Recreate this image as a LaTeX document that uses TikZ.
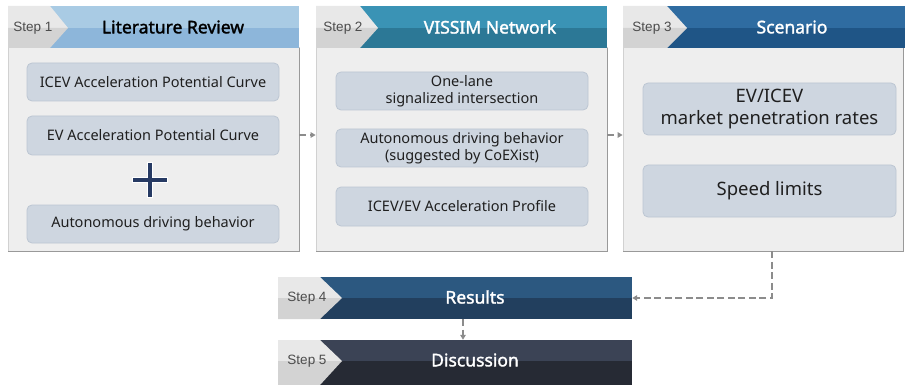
\documentclass[tikz,border=0pt]{standalone}
\usepackage{fontspec}
\setmainfont{Noto Sans}
\newfontfamily\stepfont{Liberation Sans}
\newfontfamily\titlefont{Noto Sans}[FakeBold=1.6]
\usetikzlibrary{arrows.meta}
\definecolor{hdAt}{HTML}{A9CBE4}\definecolor{hdAb}{HTML}{8DB6DA}
\definecolor{hdBt}{HTML}{3A93B5}\definecolor{hdBb}{HTML}{2C7896}
\definecolor{hdCt}{HTML}{2F6CA1}\definecolor{hdCb}{HTML}{1F5586}
\definecolor{hdDt}{HTML}{2C5880}\definecolor{hdDb}{HTML}{223F5E}
\definecolor{hdEt}{HTML}{3B4355}\definecolor{hdEb}{HTML}{262A34}
\definecolor{grayT}{HTML}{E8E8E8}\definecolor{grayB}{HTML}{D3D3D3}
\definecolor{panelfill}{HTML}{EEEEEE}
\definecolor{boxfill}{HTML}{CED6E0}\definecolor{boxline}{HTML}{BCC6D2}
\definecolor{arrowgray}{HTML}{8C8C8C}
\definecolor{plusnavy}{HTML}{263A63}
\newcommand{\stepbar}[9]{%
  \fill[#8] (#1,#5) rectangle (#4,#6);
  \fill[#9] (#1,#6) rectangle (#4,#7);
  \fill[grayT] (#1,#5) -- (#2,#5) -- (#3,#6) -- (#1,#6) -- cycle;
  \fill[grayB] (#1,#6) -- (#3,#6) -- (#2,#7) -- (#1,#7) -- cycle;
}
\tikzset{
  panelbody/.style={draw=black!18, fill=panelfill, inner sep=0pt, line width=0.8pt},
  infobox/.style={draw=boxline, fill=boxfill, rounded corners=5pt, inner sep=0pt, line width=0.8pt, align=center, font=\fontsize{14.5}{17}\selectfont, text=black!88},
  bigbox/.style={infobox, font=\fontsize{18.5}{22}\selectfont},
  steptxt/.style={font=\stepfont\fontsize{13.5}{15}\selectfont, text=black!70, inner sep=0pt},
  titletxt/.style={font=\titlefont\fontsize{17.5}{20}\selectfont, text=white, inner sep=0pt},
  flow/.style={draw=arrowgray, line width=1.6pt, dash pattern=on 7pt off 3.5pt, -{Triangle[length=5pt,width=5.5pt]}},
}
\begin{document}
\begin{tikzpicture}[x=1pt,y=-1pt]
\useasboundingbox (0,0) rectangle (905,385);
% panels
\node[panelbody, minimum width=291pt, minimum height=204pt] (p1) at (153.5,149) {};
\node[panelbody, minimum width=291pt, minimum height=204pt] (p2) at (461.5,149) {};
\node[panelbody, minimum width=280pt, minimum height=204pt] (p3) at (763,149) {};
\foreach \a/\b in {8/299,316/607,623/903}{
  \draw[black!40, line width=1pt] (\b,48) -- (\b,251) -- (\a,251);
}
% headers
\stepbar{8}{50}{68}{299}{6}{28}{48}{hdAt}{hdAb}
\stepbar{316}{360}{378}{607}{6}{28}{48}{hdBt}{hdBb}
\stepbar{623}{667}{687}{905}{6}{28}{48}{hdCt}{hdCb}
\node[steptxt] (s1) at (33,28) {Step 1};
\node[steptxt] (s2) at (343,28) {Step 2};
\node[steptxt] (s3) at (652,28) {Step 3};
\node[titletxt, text=black] (t1) at (173,27) {Literature Review};
\node[titletxt] (t2) at (490,27) {VISSIM Network};
\node[titletxt] (t3) at (792,27) {Scenario};
% boxes panel 1
\node[infobox, minimum width=252pt, minimum height=38pt] (b11) at (153,82) {ICEV Acceleration Potential Curve};
\node[infobox, minimum width=252pt, minimum height=39pt] (b12) at (153,135.5) {EV Acceleration Potential Curve};
\node[infobox, minimum width=252pt, minimum height=38pt] (b13) at (153,224) {Autonomous driving behavior};
\draw[white, line width=6pt] (132,180) -- (168,180) (150,162) -- (150,198);
\draw[plusnavy, line width=3.6pt] (133,180) -- (167,180) (150,163) -- (150,197);
% boxes panel 2
\node[infobox, minimum width=252pt, minimum height=38pt] (b21) at (462,91) {One-lane\\signalized intersection};
\node[infobox, minimum width=252pt, minimum height=38pt] (b22) at (462,148) {Autonomous driving behavior\\(suggested by CoEXist)};
\node[infobox, minimum width=252pt, minimum height=39pt] (b23) at (462,206.5) {ICEV/EV Acceleration Profile};
% boxes panel 3
\node[bigbox, minimum width=253pt, minimum height=52pt] (b31) at (769.5,109) {EV/ICEV\\market penetration rates};
\node[bigbox, minimum width=253pt, minimum height=52pt] (b32) at (769.5,191) {Speed limits};
% bottom bars
\node[inner sep=0pt, minimum width=354pt, minimum height=42pt] (res) at (455,298) {};
\node[inner sep=0pt, minimum width=354pt, minimum height=44pt] (dis) at (455,362) {};
\stepbar{278}{320}{342}{632}{277}{298}{319}{hdDt}{hdDb}
\stepbar{278}{320}{342}{632}{340}{361}{385}{hdEt}{hdEb}
\node[steptxt] (s4) at (307,298) {Step 4};
\node[steptxt] (s5) at (307,361) {Step 5};
\node[titletxt] (t4) at (475,297) {Results};
\node[titletxt] (t5) at (475,360) {Discussion};
% connectors
\draw[flow] ([yshift=14pt]p1.east) -- ([yshift=14pt]p2.west);
\draw[flow] ([yshift=14pt]p2.east) -- ([yshift=14pt]p3.west);
\draw[flow] ([xshift=9pt]p3.south) |- (res.east);
\draw[flow] ([xshift=8pt]res.south) -- ([xshift=8pt]dis.north);
\end{tikzpicture}
\end{document}
